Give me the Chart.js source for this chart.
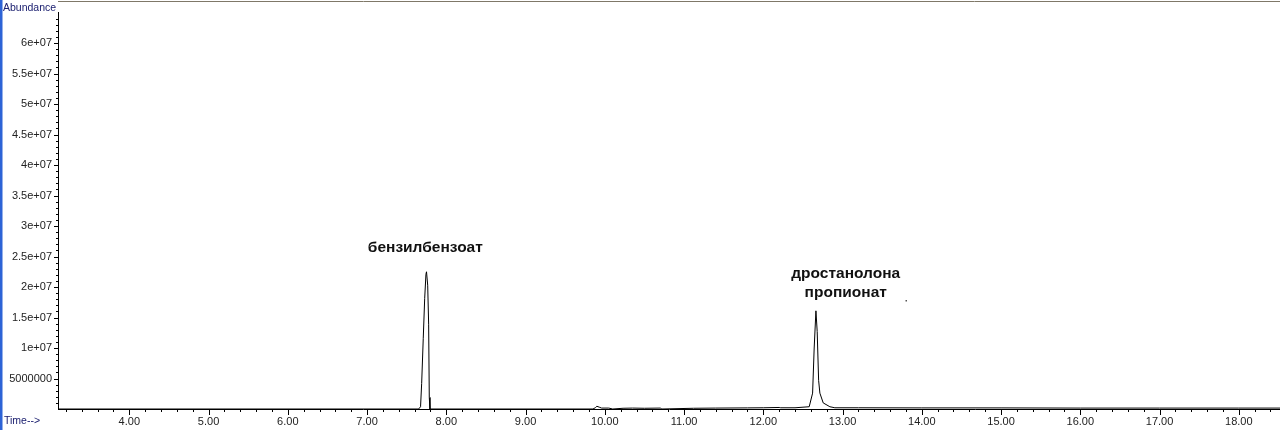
<!DOCTYPE html>
<html>
<head>
<meta charset="utf-8">
<script src="https://cdn.jsdelivr.net/npm/chart.js@4.4.1/dist/chart.umd.min.js"></script>
<style>
  html, body { margin: 0; padding: 0; background: #fff; overflow: hidden; }
  canvas { display: block; }
</style>
</head>
<body>
<canvas id="tic" width="1280" height="430"></canvas>
<script>
// retention time, min
const times = [
  3.10, 7.65, 7.675, 7.689, 7.709, 7.727, 7.743, 7.750, 7.765, 7.777, 7.785, 7.794,
  9.85, 9.88, 9.90, 9.93, 9.96, 10.05, 10.10, 10.23, 10.35, 10.50, 10.70, 10.72,
  11.12, 11.40, 11.80, 12.00, 12.20, 12.22, 12.40,
  12.579, 12.622, 12.642, 12.664, 12.680, 12.698, 12.714, 12.756, 12.840, 12.903,
  13.20, 14.00, 15.00, 16.00, 17.00, 18.00, 18.52
];
// abundance (counts)
const abundance = [
  0, 0, 0.37e6, 4.2e6, 11.6e6, 18.1e6, 22.1e6, 22.5e6, 20.3e6, 13.9e6, 1.9e6, 0,
  0, 0.2e6, 0.45e6, 0.3e6, 0.15e6, 0.15e6, 0, 0.12e6, 0.15e6, 0.12e6, 0.15e6, 0,
  0.12e6, 0.15e6, 0.18e6, 0.2e6, 0.25e6, 0.2e6, 0.2e6,
  0.37e6, 2.6e6, 10.0e6, 16.1e6, 12.7e6, 4.7e6, 2.6e6, 1.0e6, 0.37e6, 0.2e6,
  0.2e6, 0.18e6, 0.18e6, 0.15e6, 0.15e6, 0.15e6, 0.15e6
];

const xRange = [3.10, 18.52];
const yRange = [0, 6.5e7];

// peak names with the (time, abundance) spot they sit over
const peakLabels = [
  { lines: ['бензилбензоат'], t: 7.735, a: 26.4e6 },
  { lines: ['дростанолона', 'пропионат'], t: 13.04, a: 22.2e6 }
];

const navy = '#1c2070';

const decor = {
  id: 'decor',
  afterDraw(chart) {
    const { ctx, chartArea: area } = chart;
    const xs = chart.scales.x, ys = chart.scales.y;
    ctx.save();

    // window frame bits
    ctx.fillStyle = '#2d63d6';
    ctx.fillRect(0, 0, 2.5, 430);
    ctx.strokeStyle = '#7f7868';
    ctx.lineWidth = 1;
    ctx.beginPath();
    ctx.moveTo(area.left, 1.5);
    ctx.lineTo(1280, 1.5);
    ctx.stroke();

    // tick marks
    ctx.strokeStyle = '#000';
    ctx.beginPath();
    for (let i = 16; i <= 92; i++) {
      const v = i / 5;
      if (v < xRange[0] || v > xRange[1]) continue;
      const px = Math.round(xs.getPixelForValue(v)) + 0.5;
      const len = i % 5 === 0 ? 6 : 3;
      ctx.moveTo(px, area.bottom);
      ctx.lineTo(px, area.bottom + len);
    }
    for (let i = 1; i <= 64; i++) {
      const v = i * 1e6;
      const py = Math.round(ys.getPixelForValue(v)) + 0.5;
      const len = i % 5 === 0 ? 4 : 2;
      ctx.moveTo(area.left - len, py);
      ctx.lineTo(area.left, py);
    }
    ctx.stroke();

    // axis captions
    ctx.fillStyle = navy;
    ctx.font = '10.5px "Liberation Sans", Arial, sans-serif';
    ctx.textBaseline = 'middle';
    ctx.textAlign = 'left';
    ctx.fillText('Abundance', 3, 8.5);
    ctx.fillText('Time-->', 4, 421.5);

    // peak names
    ctx.fillStyle = '#111';
    ctx.font = 'bold 15.5px "Liberation Sans", Arial, sans-serif';
    ctx.textAlign = 'center';
    peakLabels.forEach(p => {
      const px = xs.getPixelForValue(p.t);
      const py = ys.getPixelForValue(p.a);
      p.lines.forEach((s, k) => ctx.fillText(s, px, py + k * 19));
    });

    // stray speck near the second label
    ctx.fillStyle = '#555';
    ctx.fillRect(905.5, 300, 1.5, 1.5);

    ctx.restore();
  }
};

const points = times.map((t, i) => ({ x: t, y: abundance[i] }));

new Chart(document.getElementById('tic'), {
  type: 'line',
  data: {
    datasets: [{
      data: points,
      borderColor: '#000',
      borderWidth: 1,
      pointRadius: 0,
      tension: 0,
      fill: false
    }]
  },
  options: {
    responsive: false,
    animation: false,
    devicePixelRatio: 1,
    layout: { padding: { top: 6, right: 0, left: 0, bottom: 0 } },
    plugins: { legend: { display: false }, tooltip: { enabled: false } },
    scales: {
      x: {
        type: 'linear',
        min: xRange[0],
        max: xRange[1],
        afterFit: s => { s.height = 21; },
        grid: { display: false, drawTicks: false },
        border: { display: true, color: '#000', width: 1 },
        ticks: {
          stepSize: 1,
          includeBounds: false,
          autoSkip: false,
          maxRotation: 0,
          padding: 6,
          color: '#222',
          font: { family: '"Liberation Sans", Arial, sans-serif', size: 11 },
          callback: v => Number.isInteger(v) ? v.toFixed(2) : ''
        }
      },
      y: {
        min: yRange[0],
        max: yRange[1],
        afterFit: s => { s.width = 58; },
        grid: { display: false, drawTicks: false },
        border: { display: true, color: '#000', width: 1 },
        ticks: {
          stepSize: 5e6,
          includeBounds: false,
          padding: 6,
          color: '#222',
          font: { family: '"Liberation Sans", Arial, sans-serif', size: 11 },
          callback: v => {
            if (v === 0 || v > 6e7) return '';
            if (v < 1e7) return String(v);
            return parseFloat((v / 1e7).toFixed(2)) + 'e+07';
          }
        }
      }
    }
  },
  plugins: [decor]
});
</script>
</body>
</html>
